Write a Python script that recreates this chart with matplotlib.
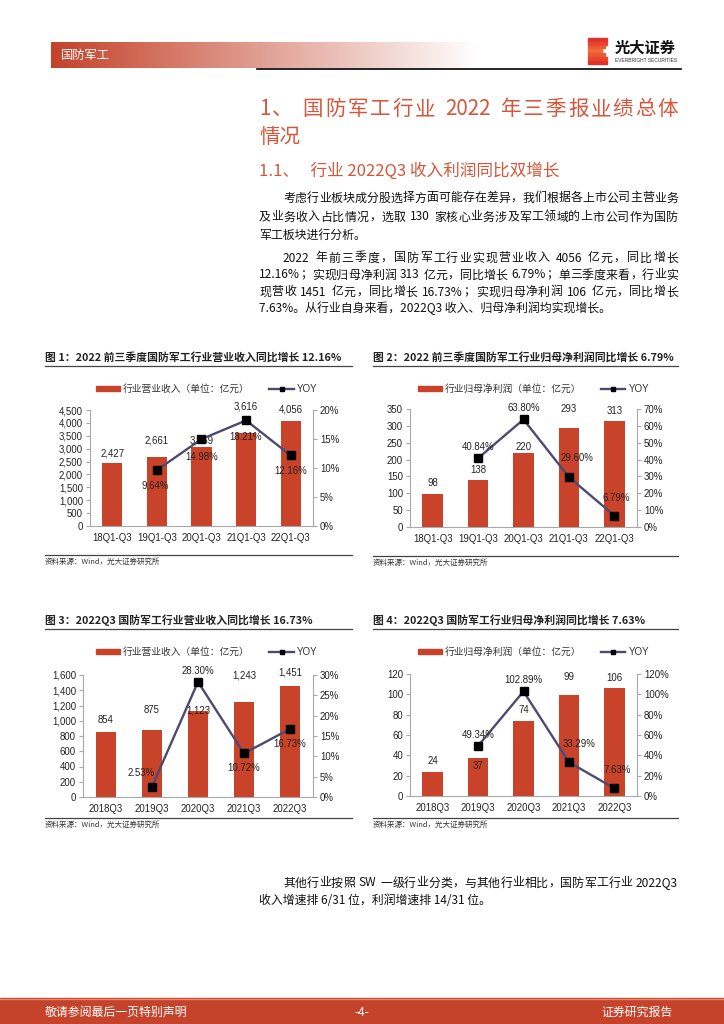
import re
import matplotlib
matplotlib.use('Agg')
import matplotlib.pyplot as plt
import numpy as np
from matplotlib.lines import Line2D
from matplotlib.patches import Rectangle, Patch

plt.rcParams['font.family'] = ['Liberation Sans', 'Noto Sans CJK SC']
CJK = ['Noto Sans CJK SC', 'DejaVu Sans']

W, H = 724, 1024
def fx(x): return x / W
def fy(y): return 1 - y / H

RED = '#c8432a'
LINE = '#4d4a72'
TITLE_RED = '#d5563a'
GRAY = '#a8a8a8'

# data
cats_ytd = ['18Q1-Q3', '19Q1-Q3', '20Q1-Q3', '21Q1-Q3', '22Q1-Q3']
cats_q3 = ['2018Q3', '2019Q3', '2020Q3', '2021Q3', '2022Q3']
rev_ytd = [2427, 2661, 3059, 3616, 4056]
rev_ytd_yoy = [np.nan, 9.64, 14.98, 18.21, 12.16]
np_ytd = [98, 138, 220, 293, 313]
np_ytd_yoy = [np.nan, 40.84, 63.80, 29.60, 6.79]
rev_q3 = [854, 875, 1123, 1243, 1451]
rev_q3_yoy = [np.nan, 2.53, 28.30, 10.72, 16.73]
np_q3 = [24, 37, 74, 99, 106]
np_q3_yoy = [np.nan, 49.34, 102.89, 33.29, 7.63]

fig = plt.figure(figsize=(7.24, 10.24), dpi=100)
renderer = fig.canvas.get_renderer()


def put_line(x0, x1, y, s, justify=False, **kw):
    if not justify:
        fig.text(fx(x0), fy(y), s, va='center', ha='left', **kw)
        return
    toks = re.findall(r'[A-Za-z0-9.%/]+|\s+|.', s)
    fs_px = kw.get('fontsize', 10) / 72 * 100
    widths = []
    for t in toks:
        if t.isspace():
            widths.append(0.3 * fs_px * len(t))
        else:
            tt = fig.text(0, 0, t, **kw)
            widths.append(tt.get_window_extent(renderer).width)
            tt.remove()
    gap = ((x1 - x0) - sum(widths)) / max(len(toks) - 1, 1)
    x = x0
    for t, w in zip(toks, widths):
        if not t.isspace():
            fig.text(fx(x), fy(y), t, va='center', ha='left', **kw)
        x += w + gap


def rule(x0, x1, y, color='#444444', lw=0.9):
    fig.add_artist(Line2D([fx(x0), fx(x1)], [fy(y), fy(y)], color=color, lw=lw))


# ---- header ----
hx0, hx1 = 51, 478
axh = fig.add_axes([fx(hx0), fy(68), (hx1 - hx0) / W, 26 / H])
t = np.linspace(0, 1, 300)[None, :, None]
c0 = np.array(matplotlib.colors.to_rgb('#c4422a'))
grad = (1 - t) * c0 + t * np.ones(3)
axh.imshow(grad, aspect='auto', extent=(0, 1, 0, 1))
axh.axis('off')
fig.text(fx(61), fy(55), '国防军工', color='white', fontsize=8.8, family=CJK, va='center')

# logo
stripe_cols = ['#e2312b', '#e8452e', '#ec5a34', '#ef6c3a', '#ec5a34', '#e8452e', '#e2312b']
stripe_w = [19, 19, 17, 14, 17, 19, 19]
for i, (col, w) in enumerate(zip(stripe_cols, stripe_w)):
    y = 38 + i * 3.8
    fig.add_artist(Rectangle((fx(588), fy(y + 2.8)), w / W, 2.8 / H, color=col,
                             transform=fig.transFigure))
fig.text(fx(615), fy(48), '光大证券', fontsize=11, fontweight='bold', family=CJK, va='center', color='#111')
fig.text(fx(615), fy(60.5), 'EVERBRIGHT SECURITIES', fontsize=3.5, va='center', color='#333')
rule(257, 681, 68.5, color='black', lw=1.2)

# ---- section titles ----
put_line(259, 678, 109, '1、 国防军工行业 2022 年三季报业绩总体', True,
         fontsize=14.8, color=TITLE_RED, family=CJK)
put_line(259, 678, 137, '情况', fontsize=14.8, color=TITLE_RED, family=CJK)
put_line(259, 678, 171, '1.1、   行业 2022Q3 收入利润同比双增长', fontsize=12, color=TITLE_RED, family=CJK)

ptxt = dict(fontsize=8.6, color='#111111', family=CJK)
put_line(283, 678, 198, '考虑行业板块成分股选择方面可能存在差异，我们根据各上市公司主营业务', True, **ptxt)
put_line(259, 678, 217, '及业务收入占比情况，选取 130 家核心业务涉及军工领域的上市公司作为国防', True, **ptxt)
put_line(259, 678, 235, '军工板块进行分析。', **ptxt)
put_line(283, 678, 258, '2022 年前三季度，国防军工行业实现营业收入 4056 亿元，同比增长', True, **ptxt)
put_line(259, 678, 275, '12.16%；实现归母净利润 313 亿元，同比增长 6.79%；单三季度来看，行业实', True, **ptxt)
put_line(259, 678, 292, '现营收 1451 亿元，同比增长 16.73%；实现归母净利润 106 亿元，同比增长', True, **ptxt)
put_line(259, 678, 308, '7.63%。从行业自身来看，2022Q3 收入、归母净利润均实现增长。', **ptxt)

put_line(283, 678, 883, '其他行业按照 SW 一级行业分类，与其他行业相比，国防军工行业 2022Q3', True, **ptxt)
put_line(259, 678, 901, '收入增速排 6/31 位，利润增速排 14/31 位。', **ptxt)


# ---- charts ----
def chart(box, frame, title, cats, vals, yoy, ymax, ystep, rmax, rstep,
          bar_off, yoy_off, legend_label):
    l, t_, r, b = box
    x0, x1, ty, ly, lx, sy = frame
    fig.text(fx(x0), fy(ty), title, fontsize=7.8, fontweight='bold', family=CJK,
             va='center', color='#222222')
    rule(x0, x1, ty + 9)
    rule(x0, x1, sy)
    fig.text(fx(x0), fy(sy + 6.5), '资料来源：Wind，光大证券研究所', fontsize=5.4,
             family=CJK, va='center', color='#333333')

    ax = fig.add_axes([fx(l), fy(b), (r - l) / W, (b - t_) / H])
    x = np.arange(len(cats))
    ax.bar(x, vals, width=0.45, color=RED, zorder=2)
    ax.set_xlim(-0.5, len(cats) - 0.5)
    ax.set_ylim(0, ymax)
    yt = np.arange(0, ymax + ystep / 2, ystep)
    ax.set_yticks(yt)
    ax.set_yticklabels([f'{v:,.0f}' for v in yt])
    ax.set_xticks(x)
    ax.set_xticklabels(cats)

    ax2 = ax.twinx()
    ax2.plot(x, yoy, color=LINE, lw=1.7, marker='s', ms=5.8, mfc='black', mec='black', zorder=3)
    ax2.set_ylim(0, rmax)
    rt = np.arange(0, rmax + rstep / 2, rstep)
    ax2.set_yticks(rt)
    ax2.set_yticklabels([f'{v:.0f}%' for v in rt])

    for a in (ax, ax2):
        a.spines['top'].set_visible(False)
        for s in ('left', 'right', 'bottom'):
            a.spines[s].set_color(GRAY)
            a.spines[s].set_linewidth(0.8)
        a.tick_params(axis='y', direction='out', length=3, width=0.8, color=GRAY,
                      labelsize=6.9, labelcolor='#222222', pad=2)
    ax.tick_params(axis='x', length=0, labelsize=6.9, labelcolor='#222222', pad=5)
    ax.spines['right'].set_visible(False)
    ax2.spines['left'].set_visible(False)
    ax2.spines['bottom'].set_visible(False)

    for xi, v, off in zip(x, vals, bar_off):
        ax.annotate(f'{v:,}', (xi, v), xytext=(0, off * 0.72), textcoords='offset points',
                    ha='center', va='center', fontsize=6.9, color='#222222', zorder=4)
    for xi, v, (dx, dy) in zip(x, yoy, yoy_off):
        if np.isnan(v):
            continue
        ax2.annotate(f'{v:.2f}%', (xi, v), xytext=(dx * 0.72, dy * 0.72),
                     textcoords='offset points', ha='center', va='center',
                     fontsize=6.9, color='#222222', zorder=5)

    handles = [Patch(color=RED),
               Line2D([], [], color=LINE, lw=1.7, marker='s', ms=3.5, mfc='black', mec='black')]
    fig.legend(handles, [legend_label, 'YOY'], loc='center left',
               bbox_to_anchor=(fx(lx), fy(ly)), bbox_transform=fig.transFigure,
               ncol=2, frameon=False, fontsize=7, handlelength=2.5, handleheight=0.55,
               handletextpad=0.3, columnspacing=2.0, borderpad=0, borderaxespad=0,
               labelcolor='#333333')


chart((90, 410, 313, 526), (45, 352, 357, 389, 96, 555),
      '图 1：2022 前三季度国防军工行业营业收入同比增长 12.16%',
      cats_ytd, rev_ytd, rev_ytd_yoy, 4500, 500, 20, 5,
      [10, 17, 7, 26, 12], [(0, 0), (-2, -16), (0, -18), (0, -17), (0, -16)],
      '行业营业收入（单位：亿元）')

chart((410, 409, 637, 527), (373, 678, 357, 389, 418, 556),
      '图 2：2022 前三季度国防军工行业归母净利润同比增长 6.79%',
      cats_ytd, np_ytd, np_ytd_yoy, 350, 50, 70, 10,
      [11, 10, 6, 19, 10], [(0, 0), (0, 11), (0, 11), (8, 19), (2, 18)],
      '行业归母净利润（单位：亿元）')

chart((83, 675, 313, 797), (45, 352, 620, 652, 96, 818),
      '图 3：2022Q3 国防军工行业营业收入同比增长 16.73%',
      cats_q3, rev_q3, rev_q3_yoy, 1600, 200, 30, 5,
      [12, 20, 1, 27, 14], [(0, 0), (-11, 14), (0, 11), (0, -15), (0, -15)],
      '行业营业收入（单位：亿元）')

chart((410, 674, 637, 796), (373, 678, 620, 652, 418, 818),
      '图 4：2022Q3 国防军工行业归母净利润同比增长 7.63%',
      cats_q3, np_q3, np_q3_yoy, 120, 20, 120, 20,
      [11, -8, 11, 18, 10], [(0, 0), (0, 11), (0, 11), (10, 18), (3, 18)],
      '行业归母净利润（单位：亿元）')

# ---- footer ----
fig.add_artist(Rectangle((0, 0), 1, 26 / H, color='#c4432a', transform=fig.transFigure))
rule(0, 724, 998.5, color='#e48a70', lw=1.0)
fig.text(fx(45), fy(1012), '敬请参阅最后一页特别声明', color='white', fontsize=8.6, family=CJK, va='center')
fig.text(fx(362), fy(1012), '-4-', color='white', fontsize=8.6, family=CJK, va='center', ha='center')
fig.text(fx(673), fy(1012), '证券研究报告', color='white', fontsize=8.6, family=CJK, va='center', ha='right')

fig.savefig('out.png', dpi=100, facecolor='white')
